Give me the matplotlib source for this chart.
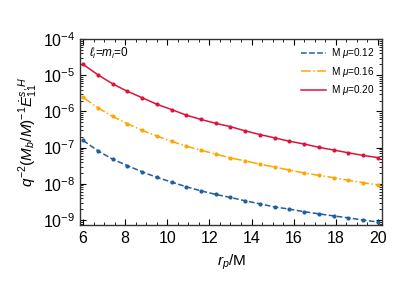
import numpy as np
from matplotlib import pyplot as plt
from matplotlib.ticker import LogLocator, MultipleLocator, NullFormatter

plt.rcParams['font.family'] = ['Liberation Sans', 'DejaVu Sans']
plt.rcParams['mathtext.fontset'] = 'custom'
plt.rcParams['mathtext.rm'] = 'Liberation Sans'
plt.rcParams['mathtext.it'] = 'Liberation Sans:italic'
plt.rcParams['mathtext.bf'] = 'Liberation Sans:bold'

# orbital radii r_p/M
r_p = [6.0, 6.7, 7.4, 8.1, 8.8, 9.5, 10.2, 10.9, 11.6, 12.3, 13.0,
       13.7, 14.4, 15.1, 15.8, 16.5, 17.2, 17.9, 18.6, 19.3, 20.0]

# M mu = 0.12
flux_012 = [1.58e-7, 8.2e-8, 4.8e-8, 3.2e-8, 2.15e-8, 1.51e-8, 1.12e-8,
            8.3e-9, 6.4e-9, 5.1e-9, 4.2e-9, 3.4e-9, 2.8e-9, 2.3e-9, 2.0e-9,
            1.70e-9, 1.48e-9, 1.30e-9, 1.15e-9, 1.0e-9, 8.8e-10]
# M mu = 0.16
flux_016 = [2.44e-6, 1.26e-6, 7.3e-7, 4.6e-7, 3.0e-7, 2.1e-7, 1.49e-7,
            1.10e-7, 8.5e-8, 6.6e-8, 5.2e-8, 4.3e-8, 3.5e-8, 2.9e-8, 2.4e-8,
            2.0e-8, 1.71e-8, 1.48e-8, 1.25e-8, 1.08e-8, 9.3e-9]
# M mu = 0.20
flux_020 = [2.0e-5, 1.03e-5, 5.8e-6, 3.6e-6, 2.4e-6, 1.58e-6, 1.13e-6,
            7.9e-7, 6.0e-7, 4.7e-7, 3.8e-7, 2.9e-7, 2.3e-7, 1.86e-7, 1.5e-7,
            1.26e-7, 1.02e-7, 8.6e-8, 7.2e-8, 6.1e-8, 5.3e-8]

labels = ['M $\\mu$=0.12', 'M $\\mu$=0.16', 'M $\\mu$=0.20']
colors = ['#1f5f9e', '#ffa500', '#dc143c']
styles = ['--', '-.', '-']
y_decades = [1e-9, 1e-8, 1e-7, 1e-6, 1e-5, 1e-4]

fig = plt.figure(figsize=(3.99, 2.83), dpi=100)
ax = fig.add_axes([0.2015, 0.205, 0.7555, 0.657])

for y, lab, c, ls in zip([flux_012, flux_016, flux_020], labels, colors, styles):
    ax.plot(r_p, y, ls, color=c, lw=1.1, label=lab)
    ax.plot(r_p, y, 'o', color=c, ms=3.0, mew=0)

ax.set_yscale('log')
ax.set_xlim(5.87, 20.19)
ax.set_ylim(7.3e-10, 1e-4)
ax.set_xticks([6, 8, 10, 12, 14, 16, 18, 20])
ax.xaxis.set_minor_locator(MultipleLocator(0.5))
ax.set_yticks(y_decades)
ax.yaxis.set_minor_locator(LogLocator(base=10, subs=np.arange(2, 10), numticks=10))
ax.yaxis.set_minor_formatter(NullFormatter())
ax.tick_params(which='both', direction='in', top=True, right=True, labelsize=11.5)
ax.tick_params(which='major', length=4, width=0.8, pad=4)
ax.tick_params(which='minor', length=2, width=0.6)
for s in ax.spines.values():
    s.set_linewidth(1.0)
    s.set_color('#333333')

ax.set_xlabel('$r_p$/M', fontsize=11, labelpad=5)
ax.set_ylabel('$q^{-2}(M_b/M)^{-1}\\dot{E}^{s,H}_{11}$', fontsize=11, labelpad=2)
ax.text(0.03, 0.925, '$\\ell_i$=$m_i$=0', transform=ax.transAxes, fontsize=8.5, va='center')

ax.legend(loc='upper right', frameon=False, fontsize=7.2, handlelength=2.5,
          handletextpad=0.5, labelspacing=0.45, borderaxespad=0.3)

fig.savefig('out.png', dpi=100)
